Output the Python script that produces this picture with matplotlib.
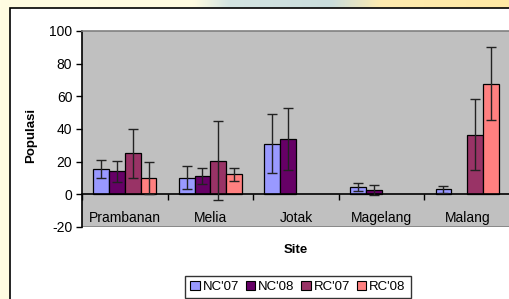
import numpy as np
import matplotlib
matplotlib.use('Agg')
import matplotlib.pyplot as plt
from matplotlib.patches import Rectangle, Patch
from matplotlib.colors import LinearSegmentedColormap

plt.rcParams['font.family'] = ['Liberation Sans', 'DejaVu Sans']
plt.rcParams['axes.unicode_minus'] = False

# data
sites = ['Prambanan', 'Melia', 'Jotak', 'Magelang', 'Malang']
series = ["NC'07", "NC'08", "RC'07", "RC'08"]
nc07 = [15.5, 10.2, 31.0, 4.5, 3.0]
nc07_err = [5.8, 7.0, 17.9, 2.6, 2.1]
nc08 = [14.1, 11.2, 33.9, 2.5, np.nan]
nc08_err = [6.3, 4.7, 19.0, 3.2, np.nan]
rc07 = [25.3, 20.7, np.nan, np.nan, 36.5]
rc07_err = [15.0, 24.4, np.nan, np.nan, 21.7]
rc08 = [10.2, 12.2, np.nan, np.nan, 67.8]
rc08_err = [9.8, 4.2, np.nan, np.nan, 22.2]
yticks = [-20, 0, 20, 40, 60, 80, 100]

colors = ['#9999FF', '#660066', '#993366', '#FF8080']

fig = plt.figure(figsize=(5.1, 2.99), dpi=100)

# slide background (pale yellow with a bluish patch on top)
bg = fig.add_axes([0, 0, 1, 1], zorder=-10)
bg.axis('off')
cmap = LinearSegmentedColormap.from_list('bg', [
    (0.0, '#FFFDE2'), (0.38, '#FFFBE0'), (0.45, '#D4E4E2'),
    (0.65, '#CADDDD'), (0.75, '#FFECB0'), (1.0, '#FFE9A4')])
bg.imshow(np.linspace(0, 1, 256)[None, :], cmap=cmap, aspect='auto',
          extent=[0, 1, 0, 1])
bg.set_xlim(0, 1)
bg.set_ylim(0, 1)
# chart area
fig.patches.append(Rectangle((10 / 510, -0.1), 1.1, 1.1 - 8 / 299,
                             transform=fig.transFigure, facecolor='white',
                             edgecolor='black', linewidth=1.2, zorder=-5))

ax = fig.add_axes([82 / 510, 1 - 227 / 299, 1 - 82 / 510, (227 - 31) / 299])
ax.set_facecolor('#C0C0C0')

x = np.arange(len(sites))
w = 0.185
vals = [nc07, nc08, rc07, rc08]
errs = [nc07_err, nc08_err, rc07_err, rc08_err]
for i, (v, e) in enumerate(zip(vals, errs)):
    pos = x + (i - 1.5) * w
    ax.bar(pos, v, w, color=colors[i], edgecolor='black', linewidth=0.9,
           label=series[i], zorder=2)
    ax.errorbar(pos, v, yerr=e, fmt='none', ecolor='#222222', elinewidth=1.0,
                capsize=3.5, capthick=1.0, zorder=3)

ax.set_xlim(-0.5, 4.5)
ax.set_ylim(-20, 100)
ax.set_yticks(yticks)
ax.tick_params(axis='y', direction='out', length=4, width=1, pad=3,
               labelsize=10)

ax.spines['bottom'].set_position(('data', 0))
ax.spines['bottom'].set_color('black')
ax.spines['bottom'].set_linewidth(1.2)
ax.spines['left'].set_color('black')
ax.spines['left'].set_linewidth(1.2)
for s in ['top', 'right']:
    ax.spines[s].set_color('#808080')
    ax.spines[s].set_linewidth(1.2)
# grey border at bottom of plot area
ax.axhline(-20, color='#808080', linewidth=1.2, zorder=1)

ax.set_xticks(x)
ax.set_xticklabels(sites, fontsize=10)
ax.set_xticks(np.arange(-0.5, 4.6, 1), minor=True)
ax.tick_params(axis='x', which='major', length=0, pad=12)
ax.tick_params(axis='x', which='minor', direction='out', length=4, width=1)

fig.text(31 / 510, 1 - 135 / 299, 'Populasi', rotation=90, fontsize=9.5,
         fontweight='bold', ha='center', va='center')
fig.text(296 / 510, 1 - 250 / 299, 'Site', fontsize=9.5, fontweight='bold',
         ha='center', va='center')

handles = [Patch(facecolor=c, edgecolor='black', linewidth=0.8) for c in colors]
leg = fig.legend(handles, series, loc='upper left',
                 bbox_to_anchor=(185 / 510, 1 - 275.5 / 299), ncol=4,
                 fontsize=9.5, frameon=True, fancybox=False,
                 handlelength=0.7, handleheight=0.7, handletextpad=0.25,
                 columnspacing=0.5, borderpad=0.4, borderaxespad=0)
leg.get_frame().set_edgecolor('black')
leg.get_frame().set_linewidth(1.0)

fig.savefig('out.png', dpi=100)
